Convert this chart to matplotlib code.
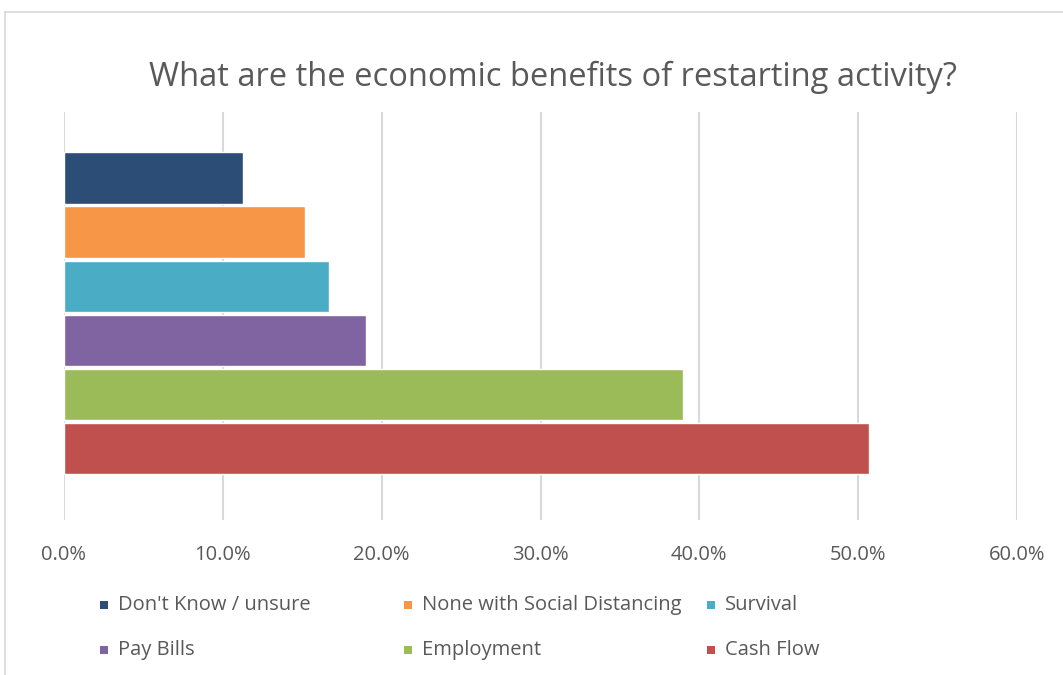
import matplotlib
matplotlib.use("Agg")
import matplotlib.pyplot as plt
from matplotlib.patches import Rectangle
from matplotlib.lines import Line2D
from matplotlib.ticker import FuncFormatter

categories = ["Don't Know / unsure", "None with Social Distancing", "Survival",
              "Pay Bills", "Employment", "Cash Flow"]
values = [11.3, 15.2, 16.7, 19.0, 39.0, 50.7]
colors = ["#2c4d75", "#f79646", "#4bacc6", "#8064a2", "#9bbb59", "#c0504d"]
xticks = [0, 10, 20, 30, 40, 50, 60]
title = "What are the economic benefits of restarting activity?"

FONT = ["Open Sans", "DejaVu Sans"]
TXT = "#595959"
W, H = 1063, 675

fig = plt.figure(figsize=(W / 100, H / 100), dpi=100)
fig.patch.set_facecolor("white")

# outer chart border (top & left visible)
fig.add_artist(Line2D([5 / W, 1.0], [1 - 12 / H, 1 - 12 / H], color="#d9d9d9", lw=1.2))
fig.add_artist(Line2D([5 / W, 5 / W], [0, 1 - 12 / H], color="#d9d9d9", lw=1.2))

ax = fig.add_axes([64 / W, 1 - 520 / H, (1017 - 64) / W, (520 - 112) / H])
n = len(values)
ypos = [n - 1 - i for i in range(n)]
ax.barh(ypos, values, height=0.95, color=colors, edgecolor="white", linewidth=1.0, zorder=3)
ax.set_xlim(0, 60)
ax.set_ylim(-1.32, n - 0.5 + 0.72)
ax.set_xticks(xticks)
ax.xaxis.set_major_formatter(FuncFormatter(lambda v, p: f"{v:.1f}%"))
ax.set_yticks([])
ax.grid(axis="x", color="#d9d9d9", linewidth=1.5, zorder=0)
for s in ax.spines.values():
    s.set_visible(False)
ax.tick_params(axis="x", length=0, pad=18, labelsize=14.5, labelcolor=TXT)
for lab in ax.get_xticklabels():
    lab.set_family(FONT)

fig.text(553 / W, 1 - 77 / H, title, ha="center", va="center", fontsize=23.5,
         color=TXT, family=FONT)

# legend laid out row-wise, 3 columns
col_x = [100, 404, 707]
row_y = [605, 650]
for i, (cat, c) in enumerate(zip(categories, colors)):
    cx = col_x[i % 3]
    cy = row_y[i // 3]
    fig.add_artist(Rectangle((cx / W, 1 - (cy + 4) / H), 8 / W, 8 / H,
                             facecolor=c, edgecolor="none"))
    fig.text((cx + 18) / W, 1 - cy / H, cat, ha="left", va="center",
             fontsize=14.5, color=TXT, family=FONT)

fig.savefig("out.png", dpi=100, facecolor="white")
